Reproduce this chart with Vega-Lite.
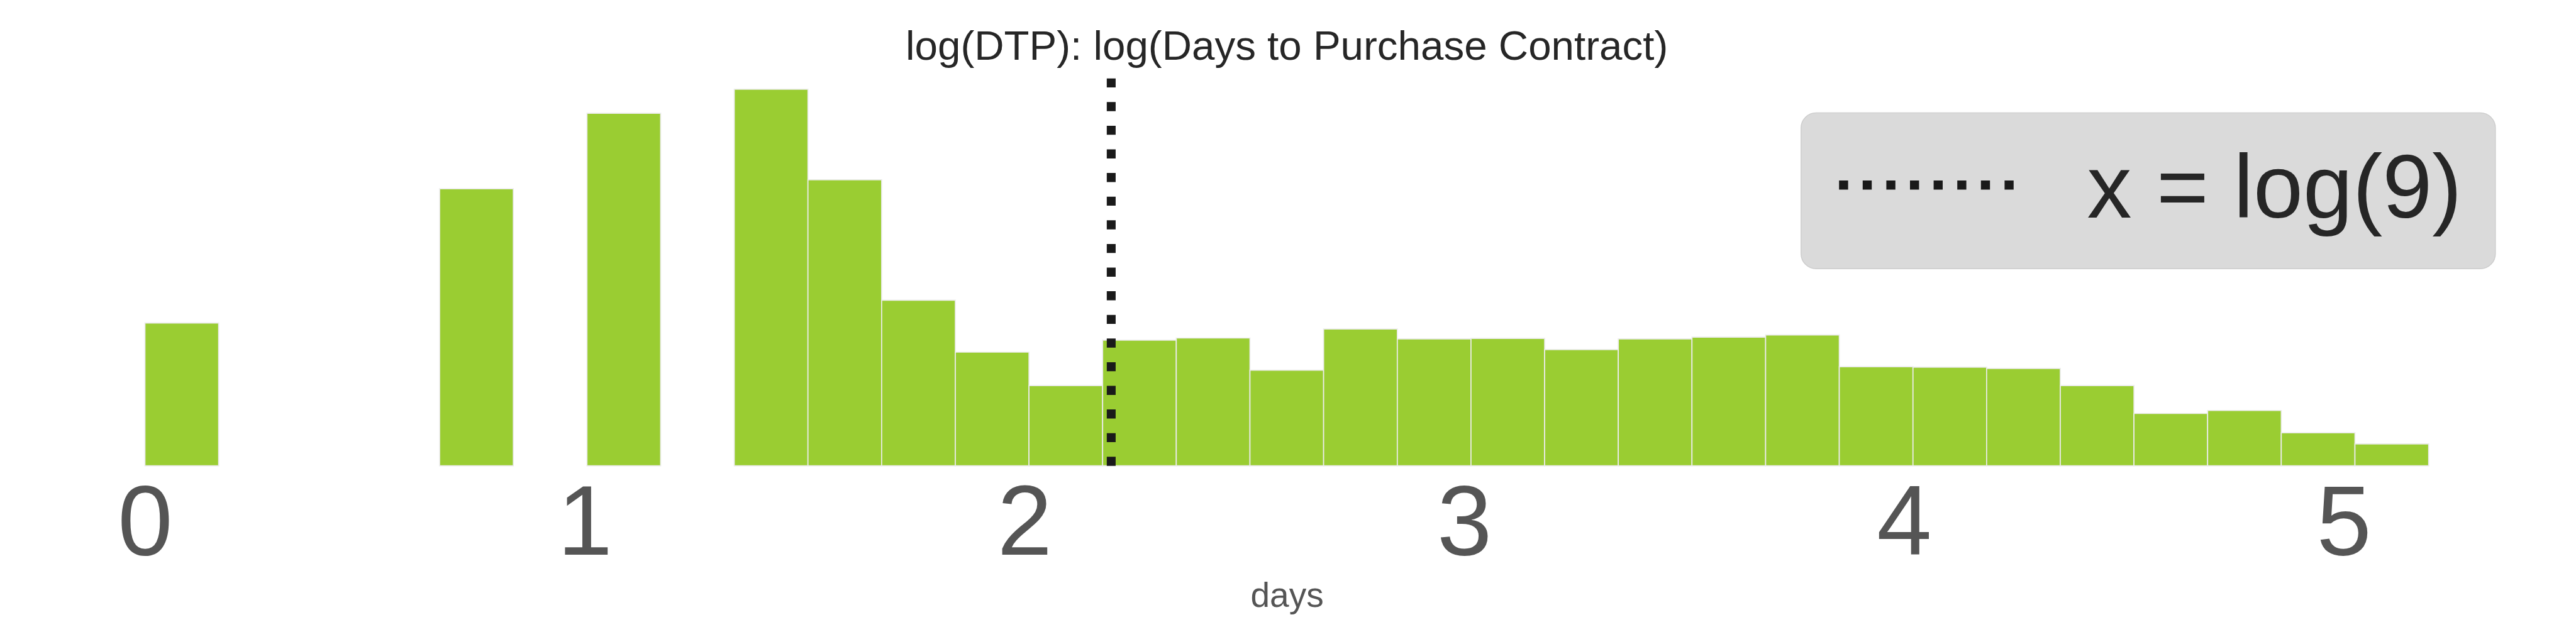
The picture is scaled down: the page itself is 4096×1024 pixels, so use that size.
{
  "$schema": "https://vega.github.io/schema/vega-lite/v6.json",
  "autosize": {"type": "none"},
  "padding": {"left": 48.9, "top": 112, "right": 52.7, "bottom": 283.3},
  "width": 3994.4,
  "height": 628.7,
  "background": "white",
  "title": {
    "text": "log(DTP): log(Days to Purchase Contract)",
    "fontSize": 65.5,
    "font": "Liberation Sans",
    "fontWeight": "normal",
    "color": "#262626",
    "anchor": "middle",
    "frame": "group",
    "baseline": "alphabetic",
    "offset": -56
  },
  "datasets": {
    "bars": [
      {"bin_start": 0.0, "bin_end": 0.1675, "count": 333},
      {"bin_start": 0.6701, "bin_end": 0.8376, "count": 646},
      {"bin_start": 1.0051, "bin_end": 1.1726, "count": 822},
      {"bin_start": 1.3401, "bin_end": 1.5076, "count": 878},
      {"bin_start": 1.5076, "bin_end": 1.6752, "count": 667},
      {"bin_start": 1.6752, "bin_end": 1.8427, "count": 386},
      {"bin_start": 1.8427, "bin_end": 2.0102, "count": 265},
      {"bin_start": 2.0102, "bin_end": 2.1777, "count": 187},
      {"bin_start": 2.1777, "bin_end": 2.3452, "count": 293},
      {"bin_start": 2.3452, "bin_end": 2.5127, "count": 298},
      {"bin_start": 2.5127, "bin_end": 2.6802, "count": 223},
      {"bin_start": 2.6802, "bin_end": 2.8478, "count": 319},
      {"bin_start": 2.8478, "bin_end": 3.0153, "count": 296},
      {"bin_start": 3.0153, "bin_end": 3.1828, "count": 297},
      {"bin_start": 3.1828, "bin_end": 3.3503, "count": 271},
      {"bin_start": 3.3503, "bin_end": 3.5178, "count": 296},
      {"bin_start": 3.5178, "bin_end": 3.6853, "count": 300},
      {"bin_start": 3.6853, "bin_end": 3.8528, "count": 305},
      {"bin_start": 3.8528, "bin_end": 4.0204, "count": 231},
      {"bin_start": 4.0204, "bin_end": 4.1879, "count": 230},
      {"bin_start": 4.1879, "bin_end": 4.3554, "count": 227},
      {"bin_start": 4.3554, "bin_end": 4.5229, "count": 187},
      {"bin_start": 4.5229, "bin_end": 4.6904, "count": 122},
      {"bin_start": 4.6904, "bin_end": 4.8579, "count": 129},
      {"bin_start": 4.8579, "bin_end": 5.0254, "count": 77},
      {"bin_start": 5.0254, "bin_end": 5.193, "count": 51}
    ],
    "line": [
      {"x": 2.1972, "label": "x = log(9)"}
    ]
  },
  "layer": [
    {
      "data": {"name": "bars"},
      "mark": {"type": "rect", "fill": "#9acd32", "stroke": "#ebebeb", "strokeWidth": 1.7},
      "encoding": {
        "x": {
          "field": "bin_start",
          "type": "quantitative",
          "scale": {"domain": [-0.2597, 5.4527], "nice": false, "zero": false},
          "axis": {
            "title": "days",
            "values": [0, 1, 2, 3, 4, 5],
            "format": "d",
            "domain": false,
            "ticks": false,
            "tickSize": 0,
            "grid": false,
            "labelPadding": 17,
            "labelFontSize": 157,
            "labelFont": "Liberation Sans",
            "labelColor": "#555555",
            "labelFlush": false,
            "labelOverlap": false,
            "titleFont": "Liberation Sans",
            "titleFontSize": 55,
            "titleFontWeight": "normal",
            "titleColor": "#555555",
            "titleBaseline": "alphabetic",
            "titleY": 223.6
          }
        },
        "x2": {"field": "bin_end"},
        "y": {
          "field": "count",
          "type": "quantitative",
          "scale": {"domain": [0, 921.9], "nice": false, "zero": true},
          "axis": null
        },
        "y2": {"datum": 0}
      }
    },
    {
      "data": {"name": "line"},
      "mark": {"type": "rule", "stroke": "#1a1a1a", "strokeWidth": 14.1},
      "encoding": {
        "x": {"field": "x", "type": "quantitative"},
        "y": {"datum": 0},
        "y2": {"datum": 921.9},
        "strokeDash": {
          "field": "label",
          "type": "nominal",
          "scale": {"domain": ["x = log(9)"], "range": [[14.4, 23.2]]},
          "legend": {
            "title": null,
            "orient": "none",
            "legendX": 2814.8,
            "legendY": 67.3,
            "padding": 53,
            "fillColor": "#dadada",
            "strokeColor": "#cccccc",
            "cornerRadius": 24,
            "clipHeight": 142,
            "symbolType": "stroke",
            "symbolSize": 77284,
            "symbolStrokeWidth": 14.4,
            "symbolStrokeColor": "#1a1a1a",
            "symbolDash": [14.4, 23.2],
            "labelFont": "Liberation Sans",
            "labelFontSize": 142,
            "labelColor": "#262626",
            "labelOffset": 108.9,
            "labelLimit": 0,
            "encode": {
              "symbols": {"update": {"y": {"value": 62}}}
            }
          }
        }
      }
    }
  ],
  "config": {
    "view": {"stroke": null},
    "font": "Liberation Sans",
    "legend": {"strokeWidth": 1.4}
  }
}
